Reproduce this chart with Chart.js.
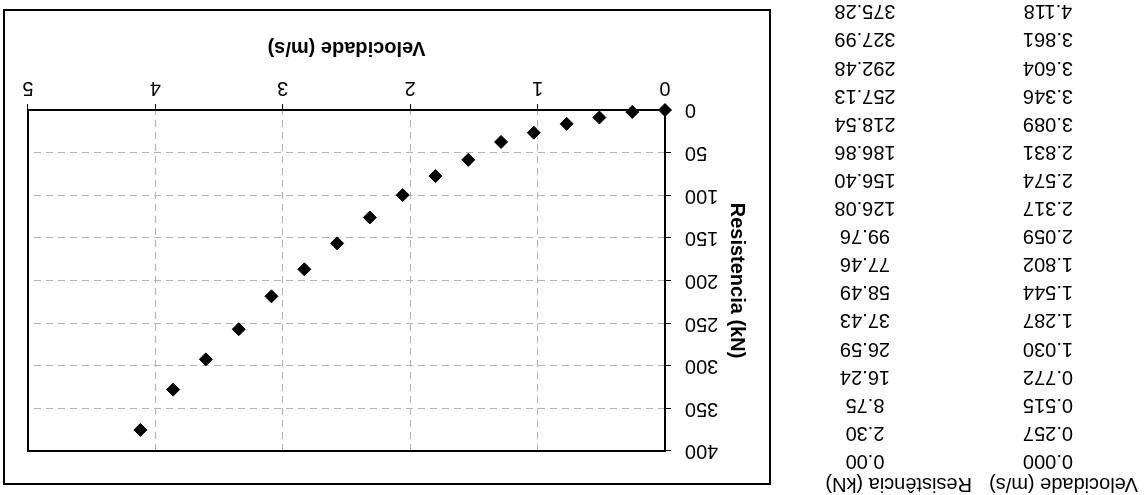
<!DOCTYPE html>
<html>
<head>
<meta charset="utf-8">
<script src="https://cdn.jsdelivr.net/npm/chart.js@4.4.0/dist/chart.umd.min.js"></script>
<style>
  html, body { margin: 0; padding: 0; background: #fff; }
  #folha {
    position: relative; width: 1144px; height: 495px; overflow: hidden;
    transform: rotate(180deg);
    font-family: "Liberation Sans", Arial, sans-serif; color: #000;
  }
  .cel { position: absolute; height: 28px; line-height: 28px; font-size: 20px; white-space: nowrap; }
  #moldura { position: absolute; left: 373px; top: 10px; width: 764px; height: 472px; border: 2px solid #000; }
</style>
</head>
<body>
<div id="folha">
  <div id="tabela"></div>
  <div id="moldura"><canvas id="grafico" width="764" height="472"></canvas></div>
</div>
<script>
// ensaio de resistencia ao avanco
const cabecalhos = ['Velocidade (m/s)', 'Resistência (kN)'];
const velocidade = [0.000, 0.257, 0.515, 0.772, 1.030, 1.287, 1.544, 1.802, 2.059,
                    2.317, 2.574, 2.831, 3.089, 3.346, 3.604, 3.861, 4.118];
const resistencia = [0.00, 2.30, 8.75, 16.24, 26.59, 37.43, 58.49, 77.46, 99.76,
                     126.08, 156.40, 186.86, 218.54, 257.13, 292.48, 327.99, 375.28];
const ticksX = [0, 1, 2, 3, 4, 5];
const ticksY = [0, 50, 100, 150, 200, 250, 300, 350, 400];

// tabela de valores ao lado do grafico
const tabela = document.getElementById('tabela');
const colunas = [{ centro: 96, cab: 6 }, { centro: 279, cab: 172 }];
function celula(texto, esq, largura, alinhar, centroY) {
  const d = document.createElement('div');
  d.className = 'cel';
  d.textContent = texto;
  d.style.left = esq + 'px';
  d.style.width = largura + 'px';
  d.style.textAlign = alinhar;
  d.style.top = (centroY - 14) + 'px';
  tabela.appendChild(d);
}
cabecalhos.forEach((h, c) => celula(h, colunas[c].cab, 170, 'left', 10));
velocidade.forEach((v, i) => {
  const y = 33 + i * 28.1;
  celula(v.toFixed(3), colunas[0].centro - 90, 180, 'center', y);
  celula(resistencia[i].toFixed(2), colunas[1].centro - 90, 180, 'center', y);
});

// contorno preto da area de plotagem
const contornoArea = {
  id: 'contornoArea',
  beforeDatasetsDraw(chart) {
    const { ctx, chartArea: a } = chart;
    ctx.save();
    ctx.strokeStyle = '#000';
    ctx.lineWidth = 2;
    ctx.strokeRect(a.left, a.top, a.right - a.left, a.bottom - a.top);
    ctx.restore();
  }
};

Chart.defaults.font.family = '"Liberation Sans", Arial, sans-serif';
Chart.defaults.font.size = 20;
Chart.defaults.color = '#000';

const grade = {
  color: '#b4b4b4',
  lineWidth: 1,
  tickLength: 6,
  tickColor: '#000',
  tickBorderDash: []
};

new Chart(document.getElementById('grafico'), {
  type: 'scatter',
  data: {
    datasets: [{
      label: 'Resistencia',
      data: velocidade.map((v, i) => ({ x: v, y: resistencia[i] })),
      pointStyle: 'rectRot',
      pointRadius: 6.5,
      pointHoverRadius: 6.5,
      backgroundColor: '#000',
      borderColor: '#000',
      borderWidth: 1,
      clip: false
    }]
  },
  plugins: [contornoArea],
  options: {
    responsive: false,
    animation: false,
    layout: { padding: { top: 32, right: 23, left: 0, bottom: 0 } },
    plugins: { legend: { display: false }, tooltip: { enabled: false } },
    scales: {
      x: {
        type: 'linear',
        min: 0, max: 5,
        afterBuildTicks: s => { s.ticks = ticksX.map(v => ({ value: v })); },
        afterFit: s => { s.height = 99; },
        ticks: { padding: 4 },
        grid: grade,
        border: { display: false, dash: [7, 5] },
        title: { display: true, text: 'Velocidade (m/s)', font: { weight: 'bold' }, padding: { top: 0, bottom: 25 } }
      },
      y: {
        type: 'linear',
        min: 0, max: 400,
        afterBuildTicks: s => { s.ticks = ticksY.map(v => ({ value: v })); },
        afterFit: s => { s.width = 104; },
        ticks: { padding: 14 },
        grid: grade,
        border: { display: false, dash: [7, 5] },
        title: { display: true, text: 'Resistencia (kN)', font: { weight: 'bold' }, padding: { top: 20, bottom: 0 } }
      }
    }
  }
});
</script>
</body>
</html>
